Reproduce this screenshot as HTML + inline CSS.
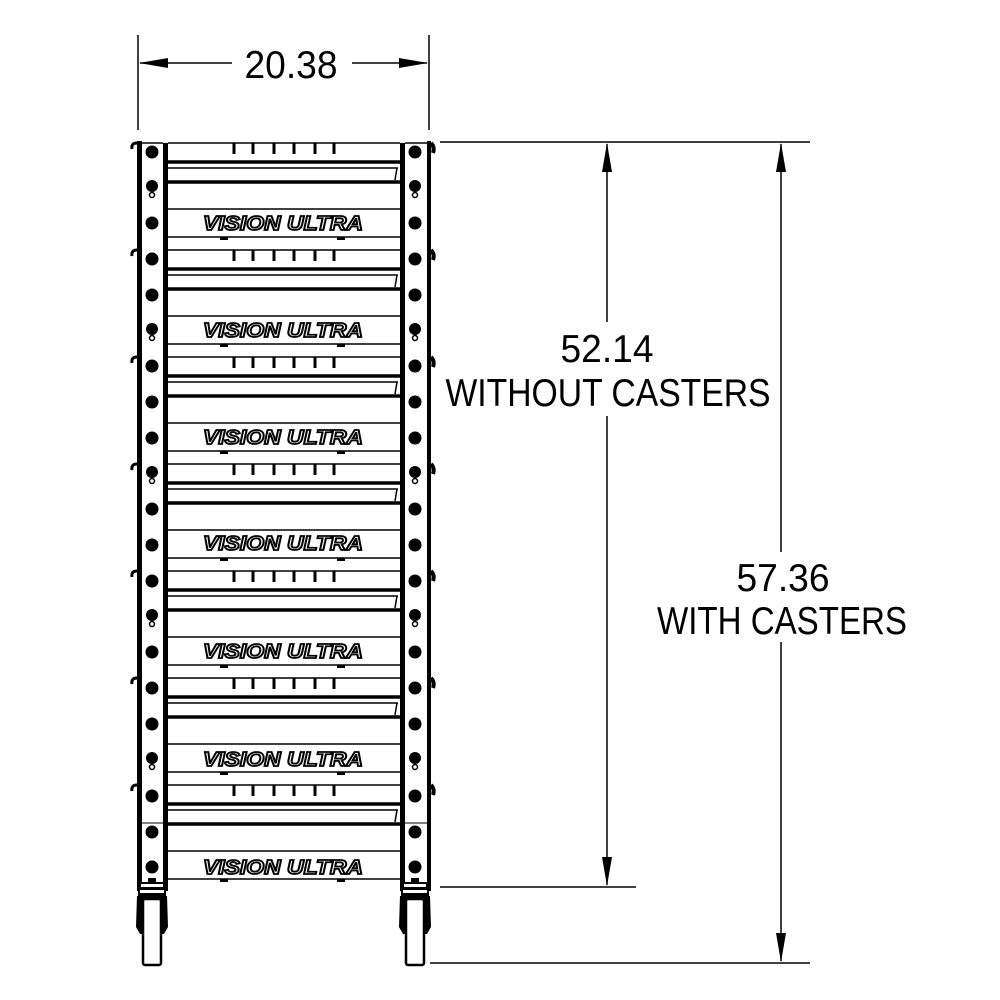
<!DOCTYPE html>
<html><head><meta charset="utf-8"><style>html,body{margin:0;padding:0;background:#fff}svg{display:block}</style></head>
<body>
<svg width="1000" height="1000" viewBox="0 0 1000 1000" xmlns="http://www.w3.org/2000/svg">
<defs>
<g id="drawer">
  <line x1="168" y1="143" x2="400" y2="143" stroke="#000" stroke-width="1.5"/>
  <g stroke="#000" stroke-width="3">
    <line x1="234" y1="143" x2="234" y2="154"/><line x1="253" y1="143" x2="253" y2="154"/>
    <line x1="274" y1="143" x2="274" y2="154"/><line x1="294" y1="143" x2="294" y2="154"/>
    <line x1="315" y1="143" x2="315" y2="154"/><line x1="334" y1="143" x2="334" y2="154"/>
  </g>
  <line x1="168" y1="162" x2="400" y2="162" stroke="#000" stroke-width="3.5"/>
  <line x1="168" y1="168" x2="398" y2="168" stroke="#000" stroke-width="1.5"/>
  <line x1="397" y1="168" x2="395" y2="180" stroke="#000" stroke-width="1.5"/>
  <line x1="168" y1="182" x2="400" y2="182" stroke="#000" stroke-width="3.5"/>
  <line x1="168" y1="209" x2="400" y2="209" stroke="#000" stroke-width="1.5"/>
  <line x1="168" y1="237" x2="400" y2="237" stroke="#000" stroke-width="1.5"/>
  <rect x="220" y="237" width="8" height="3" fill="#000"/>
  <rect x="337" y="237" width="8" height="3" fill="#000"/>
  <path d="M137 143 q-6 0 -5 6" stroke="#000" stroke-width="3" fill="none"/>
  <path d="M431 143 q4 4 2 10" stroke="#000" stroke-width="4" fill="none"/>
</g>
<g id="hole"><circle cx="0" cy="0" r="6.5" fill="#000"/></g>
<g id="key"><circle cx="0" cy="-2" r="6" fill="#000"/><circle cx="0" cy="7" r="2.5" fill="none" stroke="#000" stroke-width="1.5"/></g>
<g id="caster">
  <rect x="-12" y="0" width="24" height="6" fill="#000"/>
  <rect x="-11" y="2" width="22" height="3" fill="#fff"/>
  <rect x="-14" y="6" width="28" height="8" fill="#000"/>
  <rect x="-12" y="8" width="24" height="3" fill="#fff"/>
  <path d="M-15 14 L-16 45 L-12 52 L12 52 L16 45 L15 14 Z" fill="#000"/>
  <rect x="-9" y="17" width="18" height="66" rx="2" fill="#fff" stroke="#000" stroke-width="2.5"/>
  <path d="M-4 -4 h8 v4 h-8 z" fill="#000"/>
</g>
</defs>

<use href="#drawer" y="0"/>
<use href="#drawer" y="107"/>
<use href="#drawer" y="214"/>
<use href="#drawer" y="321"/>
<use href="#drawer" y="428"/>
<use href="#drawer" y="535"/>
<use href="#drawer" y="642"/>

<g font-family="Liberation Sans, sans-serif" font-style="italic" font-weight="bold" font-size="20" fill="#fff" stroke="#000" stroke-width="1.8" text-anchor="middle">
  <text x="283" y="230" textLength="160" lengthAdjust="spacingAndGlyphs">VISION ULTRA</text>
  <text x="283" y="337" textLength="160" lengthAdjust="spacingAndGlyphs">VISION ULTRA</text>
  <text x="283" y="444" textLength="160" lengthAdjust="spacingAndGlyphs">VISION ULTRA</text>
  <text x="283" y="550" textLength="160" lengthAdjust="spacingAndGlyphs">VISION ULTRA</text>
  <text x="283" y="658" textLength="160" lengthAdjust="spacingAndGlyphs">VISION ULTRA</text>
  <text x="283" y="766" textLength="160" lengthAdjust="spacingAndGlyphs">VISION ULTRA</text>
  <text x="283" y="874" textLength="160" lengthAdjust="spacingAndGlyphs">VISION ULTRA</text>
</g>

<rect x="137" y="141" width="5" height="750" fill="#000"/>
<rect x="163" y="143" width="5" height="748" fill="#000"/>
<line x1="142" y1="143" x2="163" y2="143" stroke="#000" stroke-width="1.5"/>
<line x1="142" y1="823" x2="163" y2="823" stroke="#000" stroke-width="1"/>
<rect x="400" y="143" width="5" height="748" fill="#000"/>
<rect x="427" y="141" width="4" height="750" fill="#000"/>
<line x1="405" y1="143" x2="427" y2="143" stroke="#000" stroke-width="1.5"/>
<line x1="405" y1="823" x2="427" y2="823" stroke="#000" stroke-width="1"/>

<g id="holesL">
<use href="#hole" x="152" y="152"/><use href="#key" x="152" y="188"/><use href="#hole" x="152" y="223"/>
<use href="#hole" x="152" y="259"/><use href="#hole" x="152" y="295"/><use href="#key" x="152" y="331"/>
<use href="#hole" x="152" y="366"/><use href="#hole" x="152" y="402"/><use href="#hole" x="152" y="438"/>
<use href="#key" x="152" y="474"/><use href="#hole" x="152" y="509"/><use href="#hole" x="152" y="545"/>
<use href="#hole" x="152" y="581"/><use href="#key" x="152" y="617"/><use href="#hole" x="152" y="652"/>
<use href="#hole" x="152" y="688"/><use href="#hole" x="152" y="724"/><use href="#key" x="152" y="760"/>
<use href="#hole" x="152" y="796"/><use href="#hole" x="152" y="832"/><use href="#hole" x="152" y="867"/>
</g>
<use href="#holesL" x="263"/>

<use href="#caster" x="152" y="882"/>
<use href="#caster" x="415" y="882"/>

<g stroke="#000" stroke-width="1.5">
  <line x1="138" y1="35" x2="138" y2="130"/>
  <line x1="429" y1="35" x2="429" y2="130"/>
  <line x1="140" y1="63" x2="232" y2="63"/>
  <line x1="352" y1="63" x2="427" y2="63"/>
  <line x1="440" y1="142" x2="810" y2="142"/>
  <line x1="440" y1="887" x2="636" y2="887"/>
  <line x1="430" y1="963" x2="810" y2="963"/>
  <line x1="607" y1="144" x2="607" y2="322"/>
  <line x1="607" y1="416" x2="607" y2="885"/>
  <line x1="781" y1="144" x2="781" y2="552"/>
  <line x1="781" y1="642" x2="781" y2="961"/>
</g>
<g fill="#000">
  <polygon points="139,63 168,58 168,68"/>
  <polygon points="428,63 399,58 399,68"/>
  <polygon points="607,143 602,172 612,172"/>
  <polygon points="607,886 602,857 612,857"/>
  <polygon points="781,143 776,172 786,172"/>
  <polygon points="781,962 776,933 786,933"/>
</g>
<g font-family="Liberation Sans, sans-serif" font-size="39" fill="#000" text-anchor="middle">
  <text x="291" y="78" textLength="93" lengthAdjust="spacingAndGlyphs">20.38</text>
  <text x="607" y="362" textLength="93" lengthAdjust="spacingAndGlyphs">52.14</text>
  <text x="608" y="406" textLength="325" lengthAdjust="spacingAndGlyphs">WITHOUT CASTERS</text>
  <text x="783" y="591" textLength="93" lengthAdjust="spacingAndGlyphs">57.36</text>
  <text x="782" y="634" textLength="250" lengthAdjust="spacingAndGlyphs">WITH CASTERS</text>
</g>
</svg>
</body></html>
